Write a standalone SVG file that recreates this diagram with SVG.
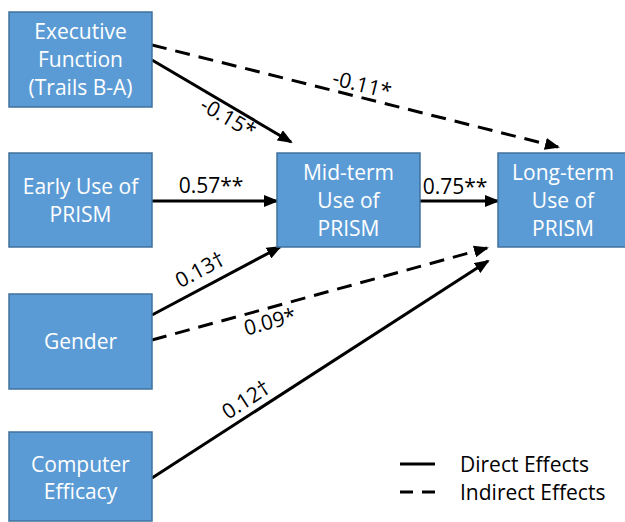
<svg xmlns="http://www.w3.org/2000/svg" width="625" height="522" viewBox="0 0 625 522">
<style>
.box{fill:#5B9BD5;stroke:#41719C;stroke-width:1.5}
.nt{font-family:"Open Sans","Liberation Sans",sans-serif;font-size:21px;fill:#fff;text-anchor:middle}
.lb{font-family:"Open Sans","Liberation Sans",sans-serif;font-size:21px;fill:#000;text-anchor:middle}
.e{stroke:#000;stroke-width:3;fill:none}
.d{stroke-dasharray:15 9}
</style>
<defs>
<marker id="ah" markerUnits="userSpaceOnUse" markerWidth="15" markerHeight="12" refX="13" refY="6" orient="auto">
<path d="M0,0 L15,6 L0,12 z" fill="#000"/>
</marker>
</defs>
<rect width="625" height="522" fill="#fff"/>
<g id="connectors">
<line class="e" x1="152" y1="60" x2="291" y2="142" marker-end="url(#ah)"/>
<line class="e d" x1="152" y1="45" x2="558" y2="147" marker-end="url(#ah)"/>
<line class="e" x1="152" y1="201" x2="277" y2="201" marker-end="url(#ah)"/>
<line class="e" x1="420" y1="201" x2="498" y2="201" marker-end="url(#ah)"/>
<line class="e" x1="152" y1="315" x2="280" y2="247" marker-end="url(#ah)"/>
<line class="e d" x1="152" y1="340" x2="487" y2="248" marker-end="url(#ah)"/>
<line class="e" x1="152" y1="478" x2="488" y2="261" marker-end="url(#ah)"/>
<text class="lb" transform="translate(228,118) rotate(30)" y="7">-0.15*</text>
<text class="lb" transform="translate(362,85) rotate(14)" y="7">-0.11*</text>
<text class="lb" x="211" y="193">0.57**</text>
<text class="lb" x="455" y="194">0.75**</text>
<text class="lb" transform="translate(200,270) rotate(-28)" y="7">0.13†</text>
<text class="lb" transform="translate(270,322) rotate(-15)" y="7">0.09*</text>
<text class="lb" transform="translate(246,400) rotate(-33)" y="7">0.12†</text>
</g>
<g id="exec">
<rect class="box" x="9" y="12" width="143" height="95"/>
<text class="nt" x="80.5" y="39">Executive</text>
<text class="nt" x="80.5" y="67">Function</text>
<text class="nt" x="80.5" y="95">(Trails B-A)</text>
</g>
<g id="early">
<rect class="box" x="9" y="153" width="143" height="94"/>
<text class="nt" x="80.5" y="193.5">Early Use of</text>
<text class="nt" x="80.5" y="221.5">PRISM</text>
</g>
<g id="gender">
<rect class="box" x="9" y="294" width="143" height="95"/>
<text class="nt" x="80.5" y="349">Gender</text>
</g>
<g id="computer">
<rect class="box" x="9" y="432" width="143" height="89"/>
<text class="nt" x="80.5" y="472">Computer</text>
<text class="nt" x="80.5" y="499">Efficacy</text>
</g>
<g id="mid">
<rect class="box" x="277" y="153" width="143" height="94"/>
<text class="nt" x="348.5" y="179.5">Mid-term</text>
<text class="nt" x="348.5" y="207.5">Use of</text>
<text class="nt" x="348.5" y="235.5">PRISM</text>
</g>
<g id="long">
<rect class="box" x="498" y="153" width="130" height="94"/>
<text class="nt" x="563" y="179.5">Long-term</text>
<text class="nt" x="563" y="207.5">Use of</text>
<text class="nt" x="563" y="235.5">PRISM</text>
</g>
<g id="legend">
<line class="e" x1="400" y1="464" x2="435" y2="464"/>
<line class="e" x1="400" y1="492" x2="413" y2="492"/>
<line class="e" x1="422" y1="492" x2="435" y2="492"/>
<text class="lb" x="460" y="472" style="text-anchor:start">Direct Effects</text>
<text class="lb" x="460" y="500" style="text-anchor:start">Indirect Effects</text>
</g>
</svg>
